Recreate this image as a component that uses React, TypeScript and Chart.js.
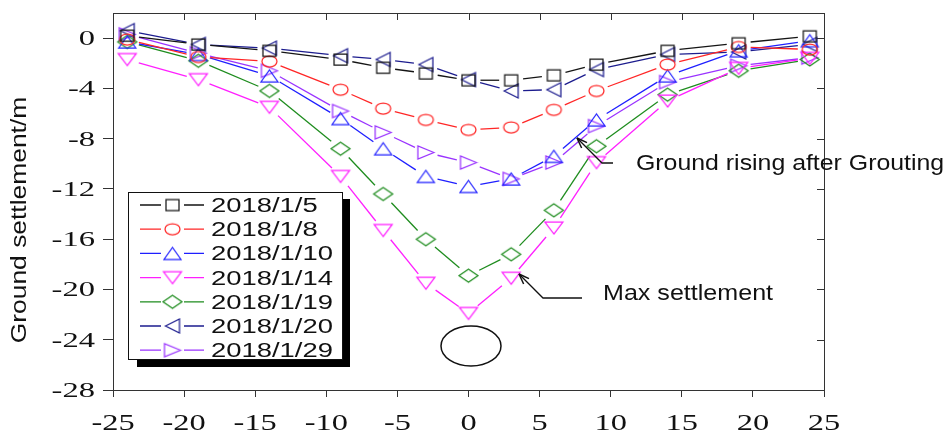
import React, { useEffect, useRef } from 'react';
import { Chart, registerables } from 'chart.js';

Chart.register(...registerables);

// ---- data ----
const X_POS = [-24, -19, -14, -9, -6, -3, 0, 3, 6, 9, 14, 19, 24];
const S_0105 = [0.2, -0.5, -1.0, -1.7, -2.35, -2.8, -3.35, -3.35, -2.95, -2.1, -1.0, -0.4, 0.15];
const S_0108 = [-0.1, -1.5, -1.85, -4.1, -5.6, -6.5, -7.3, -7.1, -5.7, -4.2, -2.1, -0.7, -0.9];
const S_0110 = [-0.3, -1.3, -3.0, -6.4, -8.8, -11.0, -11.8, -11.2, -9.4, -6.5, -3.0, -1.0, -0.2];
const S_0114 = [-1.7, -3.3, -5.5, -11.0, -15.3, -19.5, -21.9, -19.1, -15.1, -9.9, -5.0, -2.4, -1.6];
const S_0119 = [-0.3, -1.8, -4.2, -8.8, -12.4, -16.0, -18.9, -17.2, -13.7, -8.6, -4.5, -2.6, -1.7];
const S_0120 = [0.6, -0.5, -0.8, -1.4, -1.7, -2.1, -3.3, -4.2, -4.1, -2.5, -1.3, -1.1, -0.5];
const S_0129 = [0.3, -1.2, -2.6, -5.8, -7.5, -9.1, -9.9, -11.2, -9.9, -7.0, -3.5, -2.2, -1.55];
const SERIES = [S_0105, S_0108, S_0110, S_0114, S_0119, S_0120, S_0129];
const SERIES_LABELS = ['2018/1/5', '2018/1/8', '2018/1/10', '2018/1/14', '2018/1/19', '2018/1/20', '2018/1/29'];
const SERIES_COLORS = ['#151515', '#ff2626', '#1f1fff', '#ff1fff', '#1e8c1e', '#1c1c8e', '#9a33ff'];
const SERIES_SHAPES = ['square', 'circle', 'triUp', 'triDown', 'diamond', 'triLeft', 'triRight'];
const X_TICKS = [-25, -20, -15, -10, -5, 0, 5, 10, 15, 20, 25];
const Y_TICKS = [0, -4, -8, -12, -16, -20, -24, -28];
const X_MIN = -25, X_MAX = 25, Y_MIN = -28, Y_MAX = 2;
const Y_TITLE = 'Ground settlement/m';
const NOTE_RISE = 'Ground rising after Grouting';
const NOTE_MAX = 'Max settlement';

const MARKER_SIZE: Record<string, [number, number]> = {
  square: [13, 11],
  circle: [15, 11],
  triUp: [17, 12],
  triDown: [18, 12],
  diamond: [19, 13],
  triLeft: [14, 14],
  triRight: [16, 13],
};

function makeMarker(shape: string, color: string): HTMLCanvasElement {
  const [w, h] = MARKER_SIZE[shape];
  const c = document.createElement('canvas');
  c.width = w + 4;
  c.height = h + 4;
  const g = c.getContext('2d')!;
  const cx = c.width / 2, cy = c.height / 2;
  g.strokeStyle = color;
  g.lineWidth = 1.25;
  g.beginPath();
  if (shape === 'square') {
    g.rect(cx - w / 2, cy - h / 2, w, h);
  } else if (shape === 'circle') {
    g.ellipse(cx, cy, w / 2, h / 2, 0, 0, Math.PI * 2);
  } else if (shape === 'triUp') {
    g.moveTo(cx, cy - h / 2); g.lineTo(cx + w / 2, cy + h / 2); g.lineTo(cx - w / 2, cy + h / 2); g.closePath();
  } else if (shape === 'triDown') {
    g.moveTo(cx, cy + h / 2); g.lineTo(cx + w / 2, cy - h / 2); g.lineTo(cx - w / 2, cy - h / 2); g.closePath();
  } else if (shape === 'diamond') {
    g.moveTo(cx, cy - h / 2); g.lineTo(cx + w / 2, cy); g.lineTo(cx, cy + h / 2); g.lineTo(cx - w / 2, cy); g.closePath();
  } else if (shape === 'triLeft') {
    g.moveTo(cx - w / 2, cy); g.lineTo(cx + w / 2, cy - h / 2); g.lineTo(cx + w / 2, cy + h / 2); g.closePath();
  } else {
    g.moveTo(cx + w / 2, cy); g.lineTo(cx - w / 2, cy - h / 2); g.lineTo(cx - w / 2, cy + h / 2); g.closePath();
  }
  g.stroke();
  return c;
}

function sText(ctx: CanvasRenderingContext2D, text: string, x: number, y: number, font: string, sx: number, align: CanvasTextAlign, color = '#111') {
  ctx.save();
  ctx.translate(x, y);
  ctx.scale(sx, 1);
  ctx.font = font;
  ctx.textAlign = align;
  ctx.textBaseline = 'alphabetic';
  ctx.fillStyle = color;
  ctx.fillText(text, 0, 0);
  ctx.restore();
}

function arrow(ctx: CanvasRenderingContext2D, pts: number[][]) {
  ctx.save();
  ctx.strokeStyle = '#111';
  ctx.lineWidth = 1.3;
  ctx.beginPath();
  ctx.moveTo(pts[0][0], pts[0][1]);
  for (let i = 1; i < pts.length; i++) ctx.lineTo(pts[i][0], pts[i][1]);
  ctx.stroke();
  const [tx, ty] = pts[pts.length - 1];
  const [px, py] = pts[pts.length - 2];
  const a = Math.atan2(ty - py, tx - px);
  ctx.lineWidth = 1.5;
  for (const d of [-0.35, 0.35]) {
    ctx.beginPath();
    ctx.moveTo(tx, ty);
    ctx.lineTo(tx - 11 * Math.cos(a + d), ty - 11 * Math.sin(a + d));
    ctx.stroke();
  }
  ctx.restore();
}

export default function App() {
  const ref = useRef<HTMLCanvasElement>(null);

  useEffect(() => {
    const canvas = ref.current!;
    const markers = SERIES_SHAPES.map((s, i) => makeMarker(s, SERIES_COLORS[i]));
    const GAP = 12;
    const dist = (a: any, b: any) => Math.hypot(b.x - a.x, b.y - a.y);

    const datasets = SERIES.map((vals, i) => ({
      label: SERIES_LABELS[i],
      data: X_POS.map((x, j) => ({ x, y: vals[j] })),
      borderColor: SERIES_COLORS[i],
      backgroundColor: SERIES_COLORS[i],
      borderWidth: 1.3,
      pointStyle: markers[i] as any,
      pointRadius: 6,
      pointHoverRadius: 6,
      tension: 0,
      fill: false,
      clip: false as any,
      segment: {
        borderDash: (c: any) => {
          const L = dist(c.p0, c.p1);
          const d = Math.max(L - 2 * GAP, 0.001);
          return [d, L - d];
        },
        borderDashOffset: (c: any) => dist(c.p0, c.p1) - GAP,
      },
    }));

    const decor = {
      id: 'decor',
      beforeDatasetsDraw(chart: any) {
        const ctx: CanvasRenderingContext2D = chart.ctx;
        const { left, right, top, bottom } = chart.chartArea;
        const xs = chart.scales.x, ys = chart.scales.y;
        ctx.save();
        ctx.strokeStyle = '#333';
        ctx.lineWidth = 1;
        ctx.beginPath();
        ctx.moveTo(left, top + 0.5); ctx.lineTo(right + 0.5, top + 0.5); ctx.lineTo(right + 0.5, bottom);
        for (const t of xs.ticks) {
          const px = Math.round(xs.getPixelForValue(t.value)) + 0.5;
          ctx.moveTo(px, top); ctx.lineTo(px, top + 7);
        }
        for (const t of ys.ticks) {
          const py = Math.round(ys.getPixelForValue(t.value)) + 0.5;
          ctx.moveTo(right, py); ctx.lineTo(right - 7, py);
        }
        ctx.stroke();
        ctx.restore();
      },
      afterDraw(chart: any) {
        const ctx: CanvasRenderingContext2D = chart.ctx;
        const xs = chart.scales.x, ys = chart.scales.y;
        // tick labels
        for (const t of xs.ticks) {
          sText(ctx, String(t.value), xs.getPixelForValue(t.value), 430, '24px "Liberation Serif"', 1.35, 'center');
        }
        for (const t of ys.ticks) {
          sText(ctx, String(t.value), 95, ys.getPixelForValue(t.value) + 7, '21px "Liberation Serif"', 1.55, 'right');
        }
        // y title
        ctx.save();
        ctx.translate(26, 220);
        ctx.rotate(-Math.PI / 2);
        ctx.scale(1.2, 1);
        ctx.font = '22px "Liberation Sans"';
        ctx.textAlign = 'center';
        ctx.textBaseline = 'alphabetic';
        ctx.fillStyle = '#111';
        ctx.fillText(Y_TITLE, 0, 0);
        ctx.restore();

        // legend
        ctx.save();
        ctx.fillStyle = '#000';
        ctx.fillRect(137, 199, 213, 168);
        ctx.fillStyle = '#fff';
        ctx.fillRect(128, 192, 215, 168);
        ctx.strokeStyle = '#111';
        ctx.lineWidth = 1;
        ctx.strokeRect(128.5, 192.5, 214, 167);
        SERIES_LABELS.forEach((lab, i) => {
          const y = 205 + i * 24.2;
          ctx.strokeStyle = SERIES_COLORS[i];
          ctx.lineWidth = 1.3;
          ctx.beginPath();
          ctx.moveTo(140, y); ctx.lineTo(161, y);
          ctx.moveTo(184, y); ctx.lineTo(204, y);
          ctx.stroke();
          const m = markers[i];
          ctx.drawImage(m, 172.5 - m.width / 2, y - m.height / 2);
          sText(ctx, lab, 211, y + 7, '20px "Liberation Sans"', 1.37, 'left', '#111');
        });
        ctx.restore();

        // annotations
        arrow(ctx, [[613, 163], [602, 163], [577, 138]]);
        sText(ctx, NOTE_RISE, 636, 170, '22px "Liberation Sans"', 1.13, 'left', '#111');
        arrow(ctx, [[582, 298], [543, 298], [519, 274]]);
        sText(ctx, NOTE_MAX, 603, 300, '22px "Liberation Sans"', 1.14, 'left', '#111');
        ctx.save();
        ctx.strokeStyle = '#111';
        ctx.lineWidth = 1.5;
        ctx.beginPath();
        ctx.ellipse(471, 346, 30, 20, 0, 0, Math.PI * 2);
        ctx.stroke();
        ctx.restore();
      },
    };

    const chart = new Chart(canvas, {
      type: 'line',
      data: { datasets: datasets as any },
      options: {
        responsive: false,
        animation: false,
        devicePixelRatio: 1,
        layout: { padding: { left: 0, right: 126, top: 13, bottom: 0 } },
        plugins: { legend: { display: false }, tooltip: { enabled: false } },
        events: [],
        scales: {
          x: {
            type: 'linear',
            min: X_MIN,
            max: X_MAX,
            afterBuildTicks: (s: any) => { s.ticks = X_TICKS.map((v) => ({ value: v })); },
            afterFit: (s: any) => { s.height = 45; },
            ticks: { display: false },
            grid: { drawOnChartArea: false, drawTicks: true, tickLength: 7, color: '#333', lineWidth: 1 },
            border: { display: true, color: '#333', width: 1 },
          },
          y: {
            type: 'linear',
            min: Y_MIN,
            max: Y_MAX,
            afterBuildTicks: (s: any) => { s.ticks = Y_TICKS.map((v) => ({ value: v })); },
            afterFit: (s: any) => { s.width = 113; },
            ticks: { display: false },
            grid: { drawOnChartArea: false, drawTicks: true, tickLength: 10, color: '#333', lineWidth: 1 },
            border: { display: true, color: '#333', width: 1 },
          },
        },
      } as any,
      plugins: [decor],
    });
    return () => chart.destroy();
  }, []);

  return (
    <div style={{ position: 'fixed', left: 0, top: 0, width: 950, height: 435, background: '#fff' }}>
      <canvas ref={ref} width={950} height={435} style={{ width: 950, height: 435, display: 'block' }} />
    </div>
  );
}
